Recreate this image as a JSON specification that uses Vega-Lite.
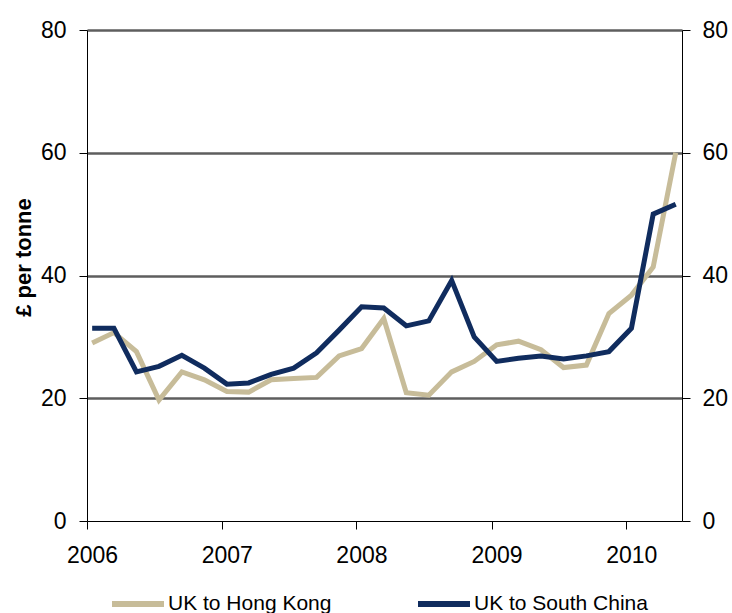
{
  "$schema": "https://vega.github.io/schema/vega-lite/v6.json",
  "width": 595,
  "height": 491,
  "autosize": {"type": "none"},
  "padding": {"left": 87, "top": 30, "right": 50, "bottom": 92},
  "background": "white",
  "config": {
    "view": {"stroke": null},
    "font": "Liberation Sans",
    "axis": {
      "domainColor": "black",
      "tickColor": "black",
      "labelColor": "black",
      "titleColor": "black",
      "labelFont": "Liberation Sans",
      "titleFont": "Liberation Sans"
    }
  },
  "data": {
    "values": [
      {"date": "2006-01-15", "series": "UK to Hong Kong", "value": 29.0},
      {"date": "2006-03-15", "series": "UK to Hong Kong", "value": 30.7},
      {"date": "2006-05-15", "series": "UK to Hong Kong", "value": 27.6},
      {"date": "2006-07-15", "series": "UK to Hong Kong", "value": 19.7},
      {"date": "2006-09-15", "series": "UK to Hong Kong", "value": 24.3},
      {"date": "2006-11-15", "series": "UK to Hong Kong", "value": 23.0},
      {"date": "2007-01-15", "series": "UK to Hong Kong", "value": 21.1},
      {"date": "2007-03-15", "series": "UK to Hong Kong", "value": 21.0},
      {"date": "2007-05-15", "series": "UK to Hong Kong", "value": 23.0},
      {"date": "2007-07-15", "series": "UK to Hong Kong", "value": 23.2},
      {"date": "2007-09-15", "series": "UK to Hong Kong", "value": 23.4},
      {"date": "2007-11-15", "series": "UK to Hong Kong", "value": 26.9},
      {"date": "2008-01-15", "series": "UK to Hong Kong", "value": 28.1},
      {"date": "2008-03-15", "series": "UK to Hong Kong", "value": 33.0},
      {"date": "2008-05-15", "series": "UK to Hong Kong", "value": 20.9},
      {"date": "2008-07-15", "series": "UK to Hong Kong", "value": 20.5},
      {"date": "2008-09-15", "series": "UK to Hong Kong", "value": 24.3},
      {"date": "2008-11-15", "series": "UK to Hong Kong", "value": 26.0},
      {"date": "2009-01-15", "series": "UK to Hong Kong", "value": 28.7},
      {"date": "2009-03-15", "series": "UK to Hong Kong", "value": 29.3},
      {"date": "2009-05-15", "series": "UK to Hong Kong", "value": 27.9},
      {"date": "2009-07-15", "series": "UK to Hong Kong", "value": 25.0},
      {"date": "2009-09-15", "series": "UK to Hong Kong", "value": 25.4},
      {"date": "2009-11-15", "series": "UK to Hong Kong", "value": 33.8},
      {"date": "2010-01-15", "series": "UK to Hong Kong", "value": 36.8},
      {"date": "2010-03-15", "series": "UK to Hong Kong", "value": 41.4},
      {"date": "2010-05-15", "series": "UK to Hong Kong", "value": 60.0},
      {"date": "2006-01-15", "series": "UK to South China", "value": 31.4},
      {"date": "2006-03-15", "series": "UK to South China", "value": 31.4},
      {"date": "2006-05-15", "series": "UK to South China", "value": 24.3},
      {"date": "2006-07-15", "series": "UK to South China", "value": 25.2},
      {"date": "2006-09-15", "series": "UK to South China", "value": 27.0},
      {"date": "2006-11-15", "series": "UK to South China", "value": 24.9},
      {"date": "2007-01-15", "series": "UK to South China", "value": 22.3},
      {"date": "2007-03-15", "series": "UK to South China", "value": 22.5},
      {"date": "2007-05-15", "series": "UK to South China", "value": 23.9},
      {"date": "2007-07-15", "series": "UK to South China", "value": 24.9},
      {"date": "2007-09-15", "series": "UK to South China", "value": 27.4},
      {"date": "2007-11-15", "series": "UK to South China", "value": 31.1},
      {"date": "2008-01-15", "series": "UK to South China", "value": 34.9},
      {"date": "2008-03-15", "series": "UK to South China", "value": 34.7},
      {"date": "2008-05-15", "series": "UK to South China", "value": 31.8},
      {"date": "2008-07-15", "series": "UK to South China", "value": 32.6},
      {"date": "2008-09-15", "series": "UK to South China", "value": 39.2},
      {"date": "2008-11-15", "series": "UK to South China", "value": 30.0},
      {"date": "2009-01-15", "series": "UK to South China", "value": 26.0},
      {"date": "2009-03-15", "series": "UK to South China", "value": 26.5},
      {"date": "2009-05-15", "series": "UK to South China", "value": 26.9},
      {"date": "2009-07-15", "series": "UK to South China", "value": 26.4},
      {"date": "2009-09-15", "series": "UK to South China", "value": 26.9},
      {"date": "2009-11-15", "series": "UK to South China", "value": 27.6},
      {"date": "2010-01-15", "series": "UK to South China", "value": 31.4},
      {"date": "2010-03-15", "series": "UK to South China", "value": 50.0},
      {"date": "2010-05-15", "series": "UK to South China", "value": 51.6}
    ]
  },
  "layer": [
    {
      "mark": {"type": "line", "strokeWidth": 5, "strokeCap": "butt", "strokeJoin": "miter"},
      "encoding": {
        "x": {
          "field": "date",
          "type": "temporal",
          "scale": {
            "type": "utc",
            "domain": [
              {"year": 2006, "month": 1, "date": 1, "utc": true},
              {"year": 2010, "month": 6, "date": 1, "utc": true}
            ]
          },
          "axis": {
            "title": null,
            "format": "%Y",
            "formatType": "utc",
            "tickCount": {"interval": "year", "step": 1},
            "grid": false,
            "tickSize": 8,
            "labelFontSize": 23,
            "labelPadding": 15,
            "labelOffset": 5,
            "labelFlush": false,
            "labelOverlap": false
          }
        },
        "y": {
          "field": "value",
          "type": "quantitative",
          "scale": {"domain": [0, 80], "nice": false},
          "axis": {
            "orient": "left",
            "values": [0, 20, 40, 60, 80],
            "title": "£ per tonne",
            "titleFontSize": 22,
            "titleFontWeight": "bold",
            "titleAngle": -90,
            "titleX": -64,
            "titleY": 227,
            "titleAlign": "center",
            "titleBaseline": "middle",
            "tickSize": 8,
            "labelFontSize": 23,
            "labelPadding": 13,
            "grid": true,
            "gridColor": "#5e5e5e",
            "gridWidth": 2.5,
            "gridOpacity": {"condition": {"test": "datum.value === 0", "value": 0}, "value": 1}
          }
        },
        "color": {
          "field": "series",
          "type": "nominal",
          "scale": {
            "domain": ["UK to Hong Kong", "UK to South China"],
            "range": ["#C7BC99", "#102C5E"]
          },
          "legend": {
            "title": null,
            "orient": "none",
            "legendX": 22,
            "legendY": 545,
            "direction": "horizontal",
            "columns": 2,
            "columnPadding": 74,
            "symbolType": "stroke",
            "symbolSize": 2704,
            "symbolStrokeWidth": 6,
            "labelFontSize": 21,
            "labelColor": "black",
            "labelOffset": 1,
            "labelLimit": 400
          }
        }
      }
    },
    {
      "mark": {"type": "line", "opacity": 0},
      "encoding": {
        "x": {
          "field": "date",
          "type": "temporal",
          "scale": {
            "type": "utc",
            "domain": [
              {"year": 2006, "month": 1, "date": 1, "utc": true},
              {"year": 2010, "month": 6, "date": 1, "utc": true}
            ]
          }
        },
        "y": {
          "field": "value",
          "type": "quantitative",
          "scale": {"domain": [0, 80], "nice": false},
          "axis": {
            "orient": "right",
            "values": [0, 20, 40, 60, 80],
            "title": null,
            "tickSize": 8,
            "labelFontSize": 23,
            "labelPadding": 12,
            "grid": false
          }
        },
        "detail": {"field": "series", "type": "nominal"}
      }
    }
  ],
  "resolve": {"scale": {"y": "independent"}}
}
